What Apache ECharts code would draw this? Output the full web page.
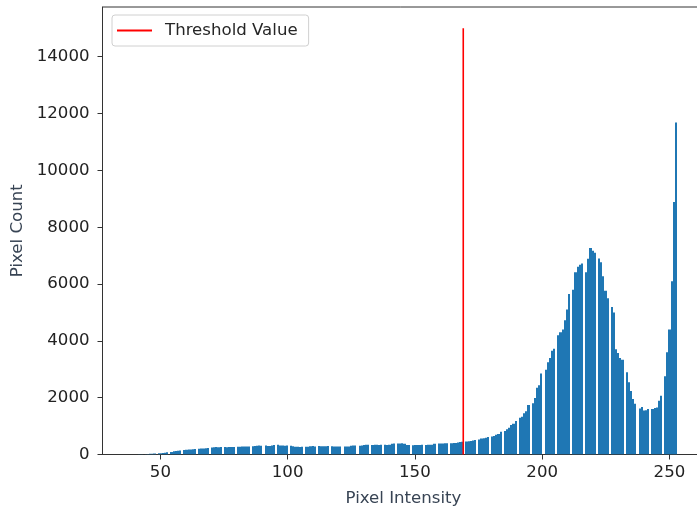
<!DOCTYPE html>
<html>
<head>
<meta charset="utf-8">
<script src="https://cdn.jsdelivr.net/npm/echarts@6/dist/echarts.min.js"></script>
<style>
  html, body { margin: 0; padding: 0; background: #fff; }
  #chart { width: 697px; height: 513px; }
</style>
</head>
<body>
<div id="chart"></div>
<script>
// Histogram of pixel intensities (matplotlib style: 256 bins between min and max intensity)
const histMin = 38;
const histMax = 253;
const binCount = 256;

// pixel count for each intensity level, starting at histMin
const pixelCounts = [
  2, 1, 3, 4, 6, 8, 12, 18, 25,                                   // 38-46
  30, 35, 40, 45, 55, 65, 75, 90, 110, 125, 135, 145, 155,       // 47-59
  165, 175, 180, 185, 190, 205, 210, 215, 220, 225,              // 60-69
  245, 255, 260, 258, 262, 265, 258, 262, 265, 268,              // 70-79
  270, 272, 280, 282, 278, 285, 290, 300, 310, 315,              // 80-89
  312, 318, 300, 295, 320, 335, 340, 320, 315, 312,              // 90-99
  318, 310, 290, 275, 270, 268, 270, 272, 275, 290,              // 100-109
  300, 285, 295, 290, 292, 288, 295, 290, 285, 282,              // 110-119
  280, 278, 283, 280, 285, 310, 315, 318, 312, 316,              // 120-129
  335, 340, 345, 338, 342, 340, 338, 340, 342, 336,              // 130-139
  345, 375, 385, 390, 388, 392, 380, 335, 330, 328,              // 140-149
  332, 330, 335, 340, 338, 342, 340, 345, 380, 388,              // 150-159
  385, 390, 392, 395, 398, 402, 405, 425, 440, 450,              // 160-169
  455, 462, 475, 495, 510, 530, 565, 575, 590, 615,              // 170-179
  635, 650, 694, 720, 800, 830, 893, 940, 1040, 1080,            // 180-189
  1175, 1290, 1330, 1450, 1520, 1740, 1800, 1986, 2350, 2440,    // 190-199
  2850, 2980, 3244, 3396, 3650, 3720, 4200, 4300, 4397, 4725,    // 200-209
  5101, 5650, 5800, 6417, 6605, 6680, 6723, 6417, 6888, 7264,    // 210-219
  7170, 7100, 6900, 6770, 6276, 5760, 5500, 5195, 5000, 3700,    // 220-229
  3573, 3400, 3338, 2891, 2539, 2233, 1950, 1787, 1622, 1669,    // 230-239
  1551, 1560, 1599, 1599, 1634, 1650, 1892, 2069, 2750, 3600,    // 240-249
  4397, 6100, 8886, 11683                                        // 250-253
];

const thresholdValue = 169;
const thresholdTop = 15000;

const xTickValues = [50, 100, 150, 200, 250];
const yTickValues = [0, 2000, 4000, 6000, 8000, 10000, 12000, 14000];

const binWidth = (histMax - histMin) / binCount;
const histData = pixelCounts.map((c, i) => [histMin + i, c]);

const font = 'DejaVu Sans';
const fontSize = 16.6;
const chart = echarts.init(document.getElementById('chart'), null, { renderer: 'canvas' });

chart.setOption({
  animation: false,
  backgroundColor: '#fff',
  textStyle: { fontFamily: font },
  grid: {
    left: 102.5,
    top: 7,
    right: -7.4,
    bottom: 58.5,
    outerBoundsMode: 'none',
    containLabel: false,
    show: true,
    borderColor: '#333',
    borderWidth: 1
  },
  legend: {
    left: 112,
    top: 15,
    padding: [7, 11, 7, 5],
    borderColor: '#d0d0d0',
    borderWidth: 1,
    borderRadius: 3,
    backgroundColor: 'rgba(255,255,255,0.8)',
    itemWidth: 35,
    itemHeight: 2,
    data: [{ name: 'Threshold Value', icon: 'rect' }],
    formatter: '{a|{name}}',
    textStyle: {
      fontFamily: font,
      fontSize: fontSize,
      color: '#262626',
      rich: { a: { fontFamily: font, fontSize: fontSize, color: '#262626', padding: [0, 0, 0, 8] } }
    }
  },
  xAxis: {
    type: 'value',
    min: 27.25,
    max: 263.75,
    name: 'Pixel Intensity',
    nameLocation: 'middle',
    nameGap: 36,
    nameTextStyle: { fontFamily: font, fontSize: fontSize, color: '#384454' },
    splitLine: { show: false },
    axisLine: { lineStyle: { color: '#333', width: 1 } },
    axisTick: { show: true, inside: false, length: 5, lineStyle: { color: '#333' }, customValues: xTickValues },
    axisLabel: {
      fontFamily: font, fontSize: fontSize, color: '#222', margin: 10,
      customValues: xTickValues, formatter: v => String(v)
    }
  },
  yAxis: {
    type: 'value',
    min: 0,
    max: 15750,
    name: 'Pixel Count',
    nameLocation: 'middle',
    nameGap: 68,
    nameTextStyle: { fontFamily: font, fontSize: fontSize, color: '#384454' },
    splitLine: { show: false },
    axisLine: { show: true, lineStyle: { color: '#333', width: 1 } },
    axisTick: { show: true, inside: false, length: 5, lineStyle: { color: '#333' }, customValues: yTickValues },
    axisLabel: {
      fontFamily: font, fontSize: fontSize, color: '#222', margin: 13,
      customValues: yTickValues, formatter: v => String(v)
    }
  },
  series: [
    {
      name: 'Pixel Count',
      type: 'custom',
      clip: true,
      encode: { x: 0, y: 1 },
      data: histData,
      renderItem: (params, api) => {
        const level = api.value(0);
        const count = api.value(1);
        const bin = Math.min(binCount - 1, Math.floor((level - histMin) / binWidth));
        const x0 = histMin + bin * binWidth;
        const topLeft = api.coord([x0, count]);
        const bottomRight = api.coord([x0 + binWidth, 0]);
        // snap bar edges to whole pixels so neighbouring bins meet without seams
        const left = Math.round(topLeft[0]);
        const right = Math.round(bottomRight[0]);
        return {
          type: 'rect',
          shape: {
            x: left,
            y: topLeft[1],
            width: right - left,
            height: bottomRight[1] - topLeft[1]
          },
          style: { fill: '#1f77b4' }
        };
      }
    },
    {
      name: 'Threshold Value',
      type: 'line',
      data: [[thresholdValue, 0], [thresholdValue, thresholdTop]],
      symbol: 'none',
      lineStyle: { color: '#ff0000', width: 1.6 },
      itemStyle: { color: '#ff0000' },
      z: 5
    }
  ]
});
</script>
</body>
</html>
